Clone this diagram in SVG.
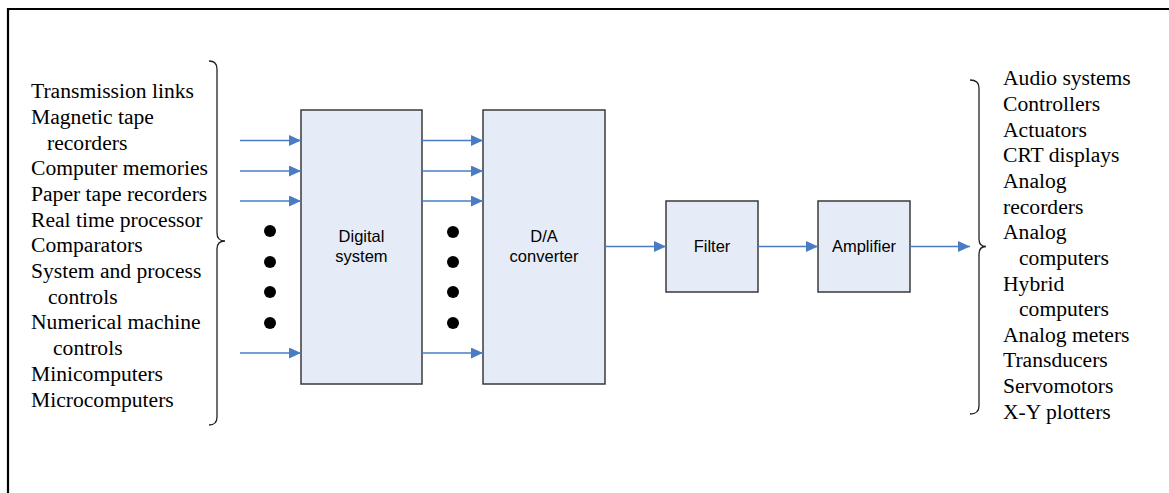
<svg xmlns="http://www.w3.org/2000/svg" width="1169" height="493" viewBox="0 0 1169 493">
<defs>
<style>
.box{fill:#E6ECF7;stroke:#3a3a3a;stroke-width:1.5}
.lbl{font-family:"Liberation Sans",Arial,sans-serif;font-size:16.5px;fill:#000;text-anchor:middle}
.lst{font-family:"Liberation Serif","Times New Roman",serif;font-size:21.6px;fill:#000}
.arr{stroke:#4A7CC4;stroke-width:1.4;fill:none;marker-end:url(#ah)}
.brace{fill:none;stroke:#222;stroke-width:1.3}
</style>
<marker id="ah" markerWidth="12" markerHeight="11" refX="12" refY="5.5" orient="auto" markerUnits="userSpaceOnUse">
<path d="M0,0 L12,5.5 L0,11 Z" fill="#4A7CC4"/>
</marker>
</defs>
<rect width="1169" height="493" fill="#fff"/>
<path d="M8,493 V9 H1169" fill="none" stroke="#000" stroke-width="2.2"/>

<g id="inputs">
<path class="brace" d="M209,61 Q217,61 217,69 V233 Q217,241 225,241 Q217,241 217,249 V417 Q217,425 209,425"/>
<text class="lst" x="31" y="98">Transmission links</text>
<text class="lst" x="31" y="124">Magnetic tape</text>
<text class="lst" x="47" y="149.5">recorders</text>
<text class="lst" x="31" y="175">Computer memories</text>
<text class="lst" x="31" y="201">Paper tape recorders</text>
<text class="lst" x="31" y="226.5">Real time processor</text>
<text class="lst" x="31" y="252">Comparators</text>
<text class="lst" x="31" y="278">System and process</text>
<text class="lst" x="48" y="303.5">controls</text>
<text class="lst" x="31" y="329">Numerical machine</text>
<text class="lst" x="53" y="355">controls</text>
<text class="lst" x="31" y="381">Minicomputers</text>
<text class="lst" x="31" y="407">Microcomputers</text>
</g>

<g id="digital-system">
<rect class="box" x="301" y="110" width="121" height="274"/>
<text class="lbl" x="361.5" y="241.5">Digital</text>
<text class="lbl" x="361.5" y="261.5">system</text>
</g>

<g id="da-converter">
<rect class="box" x="483" y="110" width="122" height="274"/>
<text class="lbl" x="544" y="241.5">D/A</text>
<text class="lbl" x="544" y="261.5">converter</text>
</g>

<g id="filter">
<rect class="box" x="666" y="201" width="92" height="91"/>
<text class="lbl" x="712" y="251.5">Filter</text>
</g>

<g id="amplifier">
<rect class="box" x="818" y="201" width="92" height="91"/>
<text class="lbl" x="864" y="251.5">Amplifier</text>
</g>

<g id="outputs">
<path class="brace" d="M970,80 Q979,80 979,88 V239 Q979,246.5 986,246.5 Q979,246.5 979,254 V406 Q979,414 970,414"/>
<text class="lst" x="1003" y="85">Audio systems</text>
<text class="lst" x="1003" y="111">Controllers</text>
<text class="lst" x="1003" y="136.5">Actuators</text>
<text class="lst" x="1003" y="162">CRT displays</text>
<text class="lst" x="1003" y="188">Analog</text>
<text class="lst" x="1003" y="213.5">recorders</text>
<text class="lst" x="1003" y="239">Analog</text>
<text class="lst" x="1019" y="265">computers</text>
<text class="lst" x="1003" y="290.5">Hybrid</text>
<text class="lst" x="1019" y="316">computers</text>
<text class="lst" x="1003" y="341.5">Analog meters</text>
<text class="lst" x="1003" y="367">Transducers</text>
<text class="lst" x="1003" y="393">Servomotors</text>
<text class="lst" x="1003" y="418.5">X-Y plotters</text>
</g>

<g id="connectors">
<line class="arr" x1="240" y1="140.5" x2="301" y2="140.5"/>
<line class="arr" x1="240" y1="171" x2="301" y2="171"/>
<line class="arr" x1="240" y1="201" x2="301" y2="201"/>
<line class="arr" x1="240" y1="353" x2="301" y2="353"/>
<line class="arr" x1="422" y1="140.5" x2="483" y2="140.5"/>
<line class="arr" x1="422" y1="171" x2="483" y2="171"/>
<line class="arr" x1="422" y1="201" x2="483" y2="201"/>
<line class="arr" x1="422" y1="353" x2="483" y2="353"/>
<line class="arr" x1="605" y1="246.5" x2="666" y2="246.5"/>
<line class="arr" x1="758" y1="246.5" x2="818" y2="246.5"/>
<line class="arr" x1="910" y1="246.5" x2="970" y2="246.5"/>
<g fill="#000">
<circle cx="270" cy="231" r="6"/>
<circle cx="270" cy="262" r="6"/>
<circle cx="270" cy="292" r="6"/>
<circle cx="270" cy="323" r="6"/>
<circle cx="453" cy="232" r="6"/>
<circle cx="453" cy="262" r="6"/>
<circle cx="453" cy="292" r="6"/>
<circle cx="453" cy="323" r="6"/>
</g>
</g>
</svg>
